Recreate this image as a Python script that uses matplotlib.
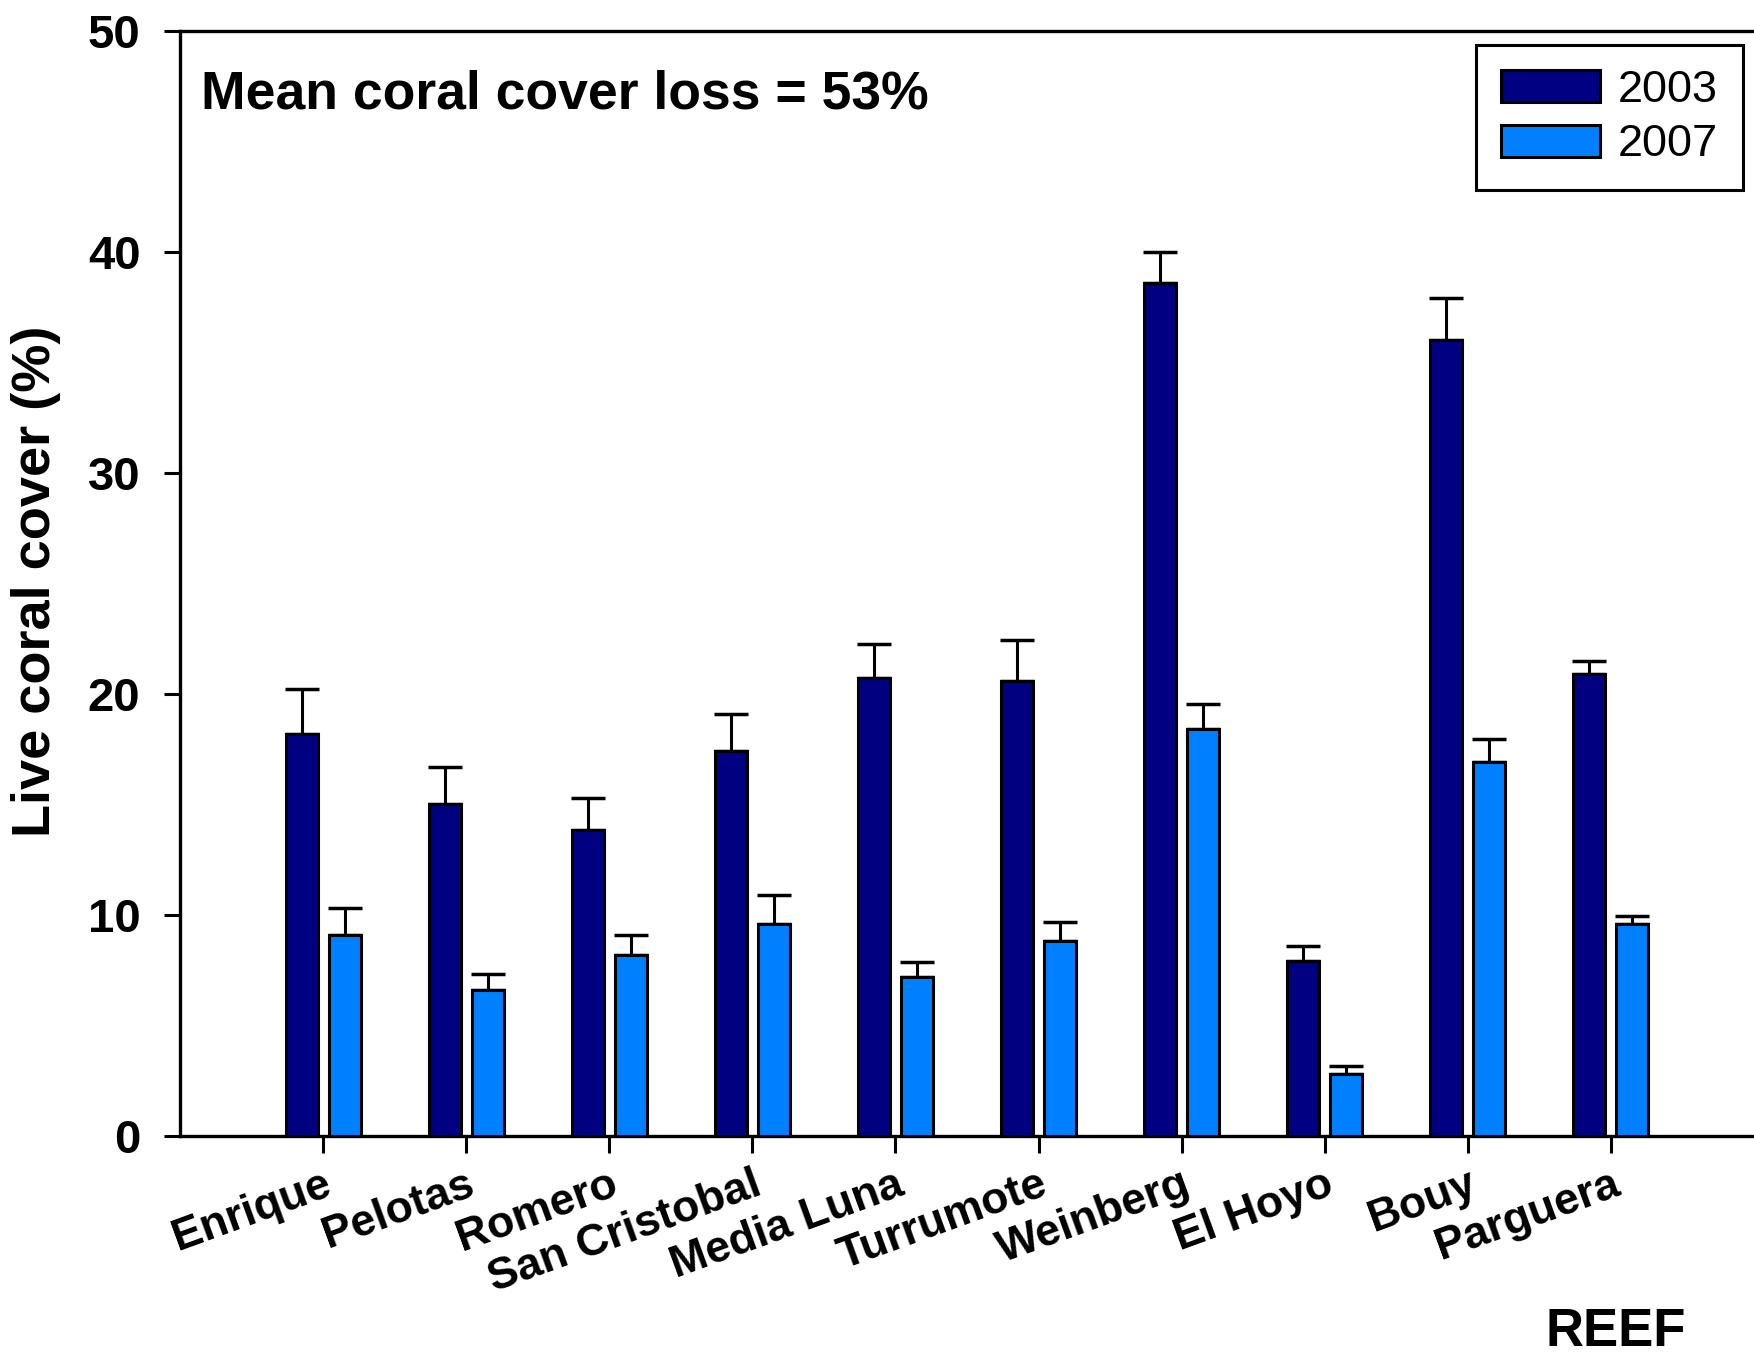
import numpy as np
import matplotlib
matplotlib.use("Agg")
import matplotlib.pyplot as plt

plt.rcParams["font.family"] = ["Liberation Sans", "DejaVu Sans"]

reefs = ["Enrique", "Pelotas", "Romero", "San Cristobal", "Media Luna",
         "Turrumote", "Weinberg", "El Hoyo", "Bouy", "Parguera"]

# mean live coral cover (%) and standard error, per survey year
cover_2003 = [18.2, 15.0, 13.85, 17.4, 20.7, 20.6, 38.6, 7.9, 36.0, 20.9]
se_2003 = [2.0, 1.7, 1.45, 1.7, 1.55, 1.85, 1.4, 0.7, 1.9, 0.6]
cover_2007 = [9.1, 6.6, 8.2, 9.6, 7.2, 8.8, 18.4, 2.8, 16.9, 9.6]
se_2007 = [1.2, 0.75, 0.9, 1.3, 0.65, 0.9, 1.15, 0.35, 1.05, 0.35]

NAVY = "#000080"
SKY = "#0080FF"
LW = 2.2

fig = plt.figure(figsize=(17.54, 13.56), dpi=100)
ax = fig.add_axes([0.10262, 0.16224, 0.89738, 0.81512])

x = np.arange(len(reefs))
width = 0.223
offset = 0.15

for xs, vals, errs, color, label in [
    (x - offset, cover_2003, se_2003, NAVY, "2003"),
    (x + offset, cover_2007, se_2007, SKY, "2007"),
]:
    ax.bar(xs, vals, width, color=color, edgecolor="black",
           linewidth=LW, label=label, zorder=3)
    # upper error only; the lower cap sits under the bar outline
    ax.errorbar(xs, vals, yerr=[np.zeros(len(errs)), errs], fmt="none",
                ecolor="black", elinewidth=LW, capsize=12.5, capthick=LW + 0.3,
                zorder=2)

ax.set_xlim(-1, 10)
ax.set_ylim(0, 50)
ax.set_yticks(range(0, 51, 10))
ax.set_xticks(x)
ax.set_xticklabels(reefs, rotation=20, ha="right", va="top",
                   rotation_mode="anchor", fontsize=32, fontweight="bold")
for lab in ax.get_yticklabels():
    lab.set_fontsize(34)
    lab.set_fontweight("bold")

ax.tick_params(axis="y", direction="out", length=11.5, width=LW, pad=17)
ax.tick_params(axis="x", direction="out", length=12, width=LW, pad=8)

ax.spines["right"].set_visible(False)
for side in ["left", "bottom", "top"]:
    ax.spines[side].set_linewidth(2.4)

fig.text(0.0208, 0.571, "Live coral cover (%)", rotation=90,
         ha="center", va="center", fontsize=39, fontweight="bold")
fig.text(1616 / 1754, 1 - 1307 / 1356, "REEF", ha="center", va="top",
         fontsize=38, fontweight="bold")

ax.text(0.0133, 0.9296, "Mean coral cover loss = 53%", transform=ax.transAxes,
        ha="left", va="baseline", fontsize=38.5, fontweight="bold")

leg = ax.legend(loc="upper right", bbox_to_anchor=(0.993, 0.987),
                borderaxespad=0, fontsize=32.5, fancybox=False, frameon=True,
                handlelength=2.2, handleheight=0.72, handletextpad=0.4,
                borderpad=0.55, labelspacing=0.3)
leg.get_frame().set_edgecolor("black")
leg.get_frame().set_linewidth(2.2)
leg.get_frame().set_alpha(1)

fig.savefig("out.png", dpi=100)
